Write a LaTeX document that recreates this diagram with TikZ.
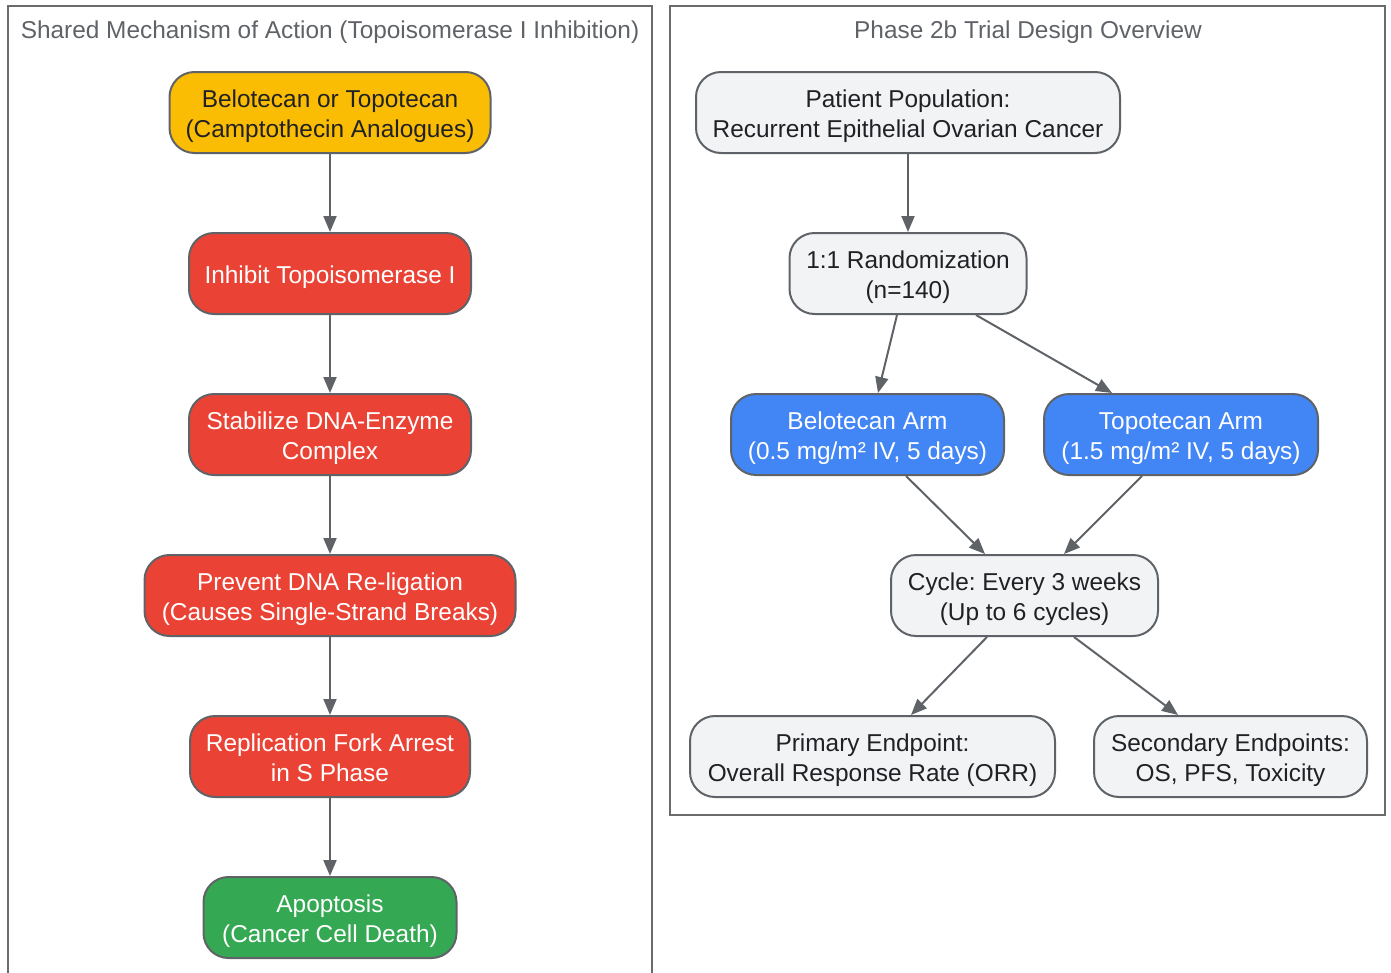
\documentclass[tikz,border=0pt]{standalone}
\usepackage{fontspec}
\setmainfont{Liberation Sans}
\frenchspacing
\usetikzlibrary{arrows.meta,calc}
\definecolor{edgec}{HTML}{5F6368}
\definecolor{framec}{HTML}{6B6B6B}
\definecolor{cyel}{HTML}{FBBC04}
\definecolor{cred}{HTML}{EA4335}
\definecolor{cgreen}{HTML}{34A853}
\definecolor{cblue}{HTML}{4285F4}
\definecolor{cgrey}{HTML}{F1F3F4}
\definecolor{ctxt}{HTML}{202124}
\newcommand\btxt[1]{\raisebox{-3.5pt}[\height][\depth]{\begin{tabular}{@{}c@{}}#1\end{tabular}}}
\begin{document}
\frenchspacing
\begin{tikzpicture}[x=1pt,y=-1pt,
  box/.style={draw=edgec, line width=2pt, rounded corners=25pt, align=center,
    font=\fontsize{24.4}{30}\selectfont\frenchspacing, inner sep=0pt, minimum height=81pt},
  yelbox/.style={box, fill=cyel, text=ctxt},
  redbox/.style={box, fill=cred, text=white},
  greenbox/.style={box, fill=cgreen, text=white},
  bluebox/.style={box, fill=cblue, text=white},
  greybox/.style={box, fill=cgrey, text=ctxt},
  frame/.style={draw=framec, line width=2pt},
  ttl/.style={font=\fontsize{24.4}{28}\selectfont, text=edgec, inner sep=0pt},
  arr/.style={draw=edgec, line width=2pt, -{Triangle[length=16pt,width=13pt]}}
]
\useasboundingbox (0,0) rectangle (1391,972);
% clusters
\draw[frame] (8,6) rectangle (652,990);
\draw[frame] (670,6) rectangle (1385,815);
\node[ttl] (t1) at (330,32) {Shared Mechanism of Action (Topoisomerase I Inhibition)};
\node[ttl] (t2) at (1028,32) {Phase 2b Trial Design Overview};
% left column
\node[yelbox, minimum width=321pt] (drug) at (330,112.5) {\btxt{Belotecan or Topotecan\\(Camptothecin Analogues)}};
\node[redbox, minimum width=282pt] (inh) at (330,273.5) {\btxt{Inhibit Topoisomerase I}};
\node[redbox, minimum width=282pt] (stab) at (330,434.5) {\btxt{Stabilize DNA-Enzyme\\Complex}};
\node[redbox, minimum width=371pt] (prev) at (330,595.5) {\btxt{Prevent DNA Re-ligation\\(Causes Single-Strand Breaks)}};
\node[redbox, minimum width=280pt] (rep) at (330,756.5) {\btxt{Replication Fork Arrest\\in S Phase}};
\node[greenbox, minimum width=253pt] (apo) at (330,917.5) {\btxt{Apoptosis\\(Cancer Cell Death)}};
\draw[arr] (drug) -- (inh);
\draw[arr] (inh) -- (stab);
\draw[arr] (stab) -- (prev);
\draw[arr] (prev) -- (rep);
\draw[arr] (rep) -- (apo);
% right column
\node[greybox, minimum width=424pt] (pop) at (908,112.5) {\btxt{Patient Population:\\Recurrent Epithelial Ovarian Cancer}};
\node[greybox, minimum width=237pt] (rand) at (908,273.5) {\btxt{1:1 Randomization\\(n=140)}};
\node[bluebox, minimum width=273pt] (barm) at (867.5,434.5) {\btxt{Belotecan Arm\\(0.5 mg/m² IV, 5 days)}};
\node[bluebox, minimum width=274pt] (tarm) at (1181,434.5) {\btxt{Topotecan Arm\\(1.5 mg/m² IV, 5 days)}};
\node[greybox, minimum width=267pt] (cyc) at (1024.5,595.5) {\btxt{Cycle: Every 3 weeks\\(Up to 6 cycles)}};
\node[greybox, minimum width=365pt] (prim) at (872.5,756.5) {\btxt{Primary Endpoint:\\Overall Response Rate (ORR)}};
\node[greybox, minimum width=273pt] (sec) at (1230.5,756.5) {\btxt{Secondary Endpoints:\\OS, PFS, Toxicity}};
\draw[arr] (pop) -- (rand);
\draw[arr] ([xshift=-11pt]rand.south) -- ([xshift=10.5pt]barm.north);
\draw[arr] ([xshift=68pt]rand.south) -- ([xshift=-69pt]tarm.north);
\draw[arr] ([xshift=38.5pt]barm.south) -- ([xshift=-39.5pt]cyc.north);
\draw[arr] ([xshift=-39pt]tarm.south) -- ([xshift=39.5pt]cyc.north);
\draw[arr] ([xshift=-37.5pt]cyc.south) -- ([xshift=38.5pt]prim.north);
\draw[arr] ([xshift=49.5pt]cyc.south) -- ([xshift=-52.5pt]sec.north);
\end{tikzpicture}
\end{document}
